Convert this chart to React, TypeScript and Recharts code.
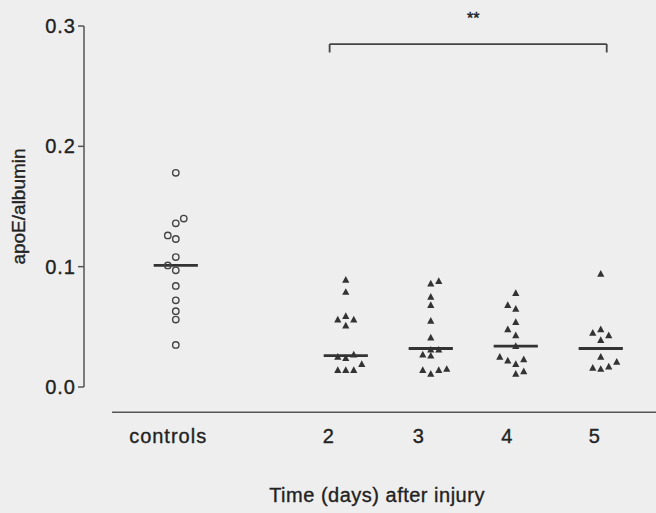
import React from "react";
import {
  ScatterChart,
  Scatter,
  XAxis,
  YAxis,
  ReferenceLine,
} from "recharts";

// apoE/albumin ratios per group
const CONTROLS = [0.178, 0.14, 0.136, 0.126, 0.123, 0.108, 0.101, 0.097, 0.084, 0.072, 0.063, 0.056, 0.035];
const DAY2 = [0.089, 0.079, 0.059, 0.056, 0.056, 0.051, 0.027, 0.025, 0.024, 0.019, 0.014, 0.014, 0.014];
const DAY3 = [0.088, 0.086, 0.075, 0.068, 0.055, 0.041, 0.031, 0.031, 0.027, 0.026, 0.015, 0.014, 0.014, 0.011];
const DAY4 = [0.078, 0.068, 0.065, 0.054, 0.048, 0.043, 0.034, 0.025, 0.023, 0.022, 0.019, 0.013, 0.011];
const DAY5 = [0.094, 0.048, 0.045, 0.043, 0.039, 0.025, 0.021, 0.017, 0.016, 0.015];

// side-by-side column of each point (keeps equal values visible)
const CONTROLS_COL = [0, 1, 0, -1, 0, 0, -1, 0, 0, 0, 0, 0, 0];
const DAY2_COL = [0, 0, 0, -1, 1, 0, 1, -1, 0, 2, -1, 0, 1];
const DAY3_COL = [1, 0, 0, 0, 0, 0, 0, 1, -1, 0, 2, -1, 1, 0];
const DAY4_COL = [0, -1, 0, 0, -1, 0, 0, -2, 1, -1, 0, 1, 0];
const DAY5_COL = [0, 0, -1, 1, 0, 0, 2, 1, -1, 0];

const GROUP_POS = [0, 2, 3, 4, 5];
const GROUP_LABELS = ["controls", "2", "3", "4", "5"];
const LABEL_POS = [-0.09, 1.8, 2.86, 3.9, 4.93];
const MEDIANS = [0.101, 0.026, 0.032, 0.034, 0.032];
const Y_TICKS = [0, 0.1, 0.2, 0.3];

const COL_STEP = 0.094;
const MEDIAN_HALF = 0.26;
const INK = "#222";
const FONT = "'Liberation Sans', Arial, sans-serif";

const toPoints = (pos: number, values: number[], cols: number[]) =>
  values.map((v, i) => ({ x: pos + cols[i] * COL_STEP, y: v }));

const controlPts = toPoints(GROUP_POS[0], CONTROLS, CONTROLS_COL);
const dayPts = [
  toPoints(GROUP_POS[1], DAY2, DAY2_COL),
  toPoints(GROUP_POS[2], DAY3, DAY3_COL),
  toPoints(GROUP_POS[3], DAY4, DAY4_COL),
  toPoints(GROUP_POS[4], DAY5, DAY5_COL),
];

const OpenCircle = (p: any) => (
  <circle cx={p.cx} cy={p.cy} r={3.2} fill="none" stroke="#444" strokeWidth={1.4} />
);

const Triangle = (p: any) => (
  <path
    d={`M${p.cx},${p.cy - 3.8}L${p.cx + 3.6},${p.cy + 2.9}L${p.cx - 3.6},${p.cy + 2.9}Z`}
    fill="#333"
  />
);

const textStyle = {
  fontSize: 20,
  fill: INK,
  stroke: INK,
  strokeWidth: 0.35,
  letterSpacing: 1,
  fontFamily: FONT,
};

function XTick({ x, y, payload }: any) {
  const idx = LABEL_POS.indexOf(payload.value);
  return (
    <text x={x} y={y} dy={56} textAnchor="middle" {...textStyle}>
      {GROUP_LABELS[idx]}
    </text>
  );
}

export default function App() {
  return (
    <div
      style={{
        position: "absolute",
        left: 0,
        top: 0,
        width: 656,
        height: 513,
        background: "#eeeeee",
        fontFamily: FONT,
      }}
    >
      <ScatterChart width={656} height={513} margin={{ top: 26, right: 0, bottom: 0, left: 0 }}>
        <XAxis
          type="number"
          dataKey="x"
          domain={[-1.08, 5.65]}
          ticks={LABEL_POS}
          tick={<XTick />}
          tickSize={0}
          tickMargin={0}
          axisLine={false}
          tickLine={false}
          height={126}
          interval={0}
          label={{
            value: "Time (days) after injury",
            position: "insideBottom",
            offset: 11,
            dx: 7,
            ...textStyle,
            letterSpacing: 0.5,
          }}
        />
        <YAxis
          type="number"
          dataKey="y"
          domain={[0, 0.3]}
          ticks={Y_TICKS}
          width={84}
          tickFormatter={(v) => v.toFixed(1)}
          tick={textStyle}
          axisLine={{ stroke: "#555", strokeWidth: 1.5 }}
          tickLine={{ stroke: "#555", strokeWidth: 1.5 }}
          tickSize={6}
          label={{
            value: "apoE/albumin",
            angle: -90,
            position: "center",
            dx: -24,
            fontSize: 19,
            fill: INK,
            stroke: INK,
            strokeWidth: 0.35,
          }}
        />

        {/* detached baseline under the groups */}
        <ReferenceLine
          segment={[{ x: -0.75, y: -0.021 }, { x: 5.65, y: -0.021 }]}
          stroke="#555"
          strokeWidth={1.5}
          ifOverflow="visible"
        />

        {/* significance bracket */}
        <ReferenceLine
          segment={[{ x: 1.81, y: 0.285 }, { x: 5.07, y: 0.285 }]}
          stroke="#444"
          strokeWidth={1.8}
          ifOverflow="visible"
          label={{
            value: "**",
            position: "top",
            offset: 20,
            dx: 5,
            fontSize: 16,
            fill: INK,
            stroke: INK,
            strokeWidth: 0.4,
          }}
        />
        <ReferenceLine
          segment={[{ x: 1.81, y: 0.285 }, { x: 1.81, y: 0.278 }]}
          stroke="#444"
          strokeWidth={1.8}
          ifOverflow="visible"
        />
        <ReferenceLine
          segment={[{ x: 5.07, y: 0.285 }, { x: 5.07, y: 0.278 }]}
          stroke="#444"
          strokeWidth={1.8}
          ifOverflow="visible"
        />

        {/* median bars */}
        {GROUP_POS.map((pos, i) => (
          <ReferenceLine
            key={`med-${pos}`}
            segment={[
              { x: pos - MEDIAN_HALF, y: MEDIANS[i] },
              { x: pos + MEDIAN_HALF, y: MEDIANS[i] },
            ]}
            stroke="#333"
            strokeWidth={2.8}
            ifOverflow="visible"
          />
        ))}

        <Scatter data={controlPts} shape={OpenCircle} isAnimationActive={false} />
        {dayPts.map((pts, i) => (
          <Scatter key={`day-${i}`} data={pts} shape={Triangle} isAnimationActive={false} />
        ))}
      </ScatterChart>
    </div>
  );
}
